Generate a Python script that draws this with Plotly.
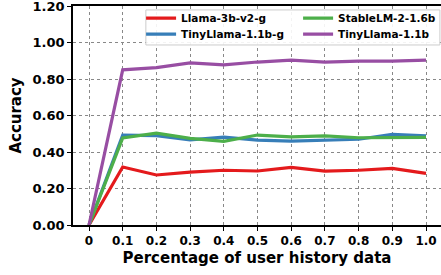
import plotly.graph_objects as go

x_vals = [0, 0.1, 0.2, 0.3, 0.4, 0.5, 0.6, 0.7, 0.8, 0.9, 1.0]
x_ticktext = ["0", "0.1", "0.2", "0.3", "0.4", "0.5", "0.6", "0.7", "0.8", "0.9", "1.0"]

llama_3b_v2_g = [0, 0.318, 0.274, 0.290, 0.300, 0.296, 0.316, 0.295, 0.300, 0.310, 0.283]
tinyllama_g = [0, 0.493, 0.490, 0.467, 0.482, 0.465, 0.460, 0.466, 0.470, 0.497, 0.488]
stablelm = [0, 0.477, 0.503, 0.475, 0.458, 0.493, 0.483, 0.488, 0.478, 0.480, 0.480]
tinyllama = [0, 0.850, 0.862, 0.888, 0.877, 0.893, 0.903, 0.893, 0.898, 0.898, 0.903]

y_ticks = [0, 0.2, 0.4, 0.6, 0.8, 1.0, 1.2]

# (name, values, colour, legend row, rank within row)
series = [
    ("Llama-3b-v2-g", llama_3b_v2_g, "#e41a1c", "legend", 1),
    ("TinyLlama-1.1b-g", tinyllama_g, "#377eb8", "legend2", 1),
    ("StableLM-2-1.6b", stablelm, "#4daf4a", "legend", 2),
    ("TinyLlama-1.1b", tinyllama, "#984ea3", "legend2", 2),
]

fig = go.Figure()
for name, vals, color, leg, rank in series:
    fig.add_trace(go.Scatter(
        x=x_vals, y=vals, mode="lines", name=name,
        line=dict(color=color, width=3.2),
        legend=leg, legendrank=rank,
    ))

font_family = "DejaVu Sans"
leg_font = dict(family=font_family, size=10.5, color="black", weight="bold")
leg_common = dict(
    orientation="h", xanchor="left", yanchor="middle",
    bgcolor="rgba(0,0,0,0)", borderwidth=0,
    font=leg_font, entrywidth=112, itemwidth=30,
)

fig.update_layout(
    width=441, height=275,
    margin=dict(l=73, r=0, t=6, b=50, autoexpand=False),
    plot_bgcolor="white", paper_bgcolor="white",
    font=dict(family=font_family, size=12, color="black"),
    showlegend=True,
    legend=dict(x=0.185, y=0.945, **leg_common),
    legend2=dict(x=0.185, y=0.872, **leg_common),
    shapes=[dict(
        type="rect", xref="paper", yref="paper",
        x0=0.198, x1=0.997, y0=0.822, y1=0.982,
        fillcolor="rgba(255,255,255,0.9)",
        line=dict(color="#cccccc", width=1),
        layer="above",
    )],
    xaxis=dict(
        range=[-0.0475, 1.0445],
        tickvals=x_vals, ticktext=x_ticktext,
        showgrid=True, gridcolor="#888888", griddash="dot", gridwidth=1,
        showline=True, linecolor="black", linewidth=1.5, mirror=True,
        ticks="outside", ticklen=4, tickcolor="black",
        ticklabeloverflow="allow",
        tickfont=dict(family=font_family, size=12, weight="bold"),
        title=dict(text="Percentage of user history data",
                   font=dict(family=font_family, size=15, weight="bold"),
                   standoff=5),
        zeroline=False,
        automargin=False,
    ),
    yaxis=dict(
        range=[0, 1.2],
        tickvals=y_ticks, tickformat=".2f",
        showgrid=True, gridcolor="#888888", griddash="dot", gridwidth=1,
        showline=True, linecolor="black", linewidth=1.5,
        ticks="outside", ticklen=4, tickcolor="black",
        ticklabeloverflow="allow",
        tickfont=dict(family=font_family, size=13, weight="bold"),
        title=dict(text="Accuracy",
                   font=dict(family=font_family, size=15, weight="bold"),
                   standoff=7),
        zeroline=False,
        automargin=False,
    ),
)

fig.write_html(
    "out.html",
    config={"displayModeBar": False},
    post_script="document.body.style.margin='0';document.body.style.padding='0';",
)
